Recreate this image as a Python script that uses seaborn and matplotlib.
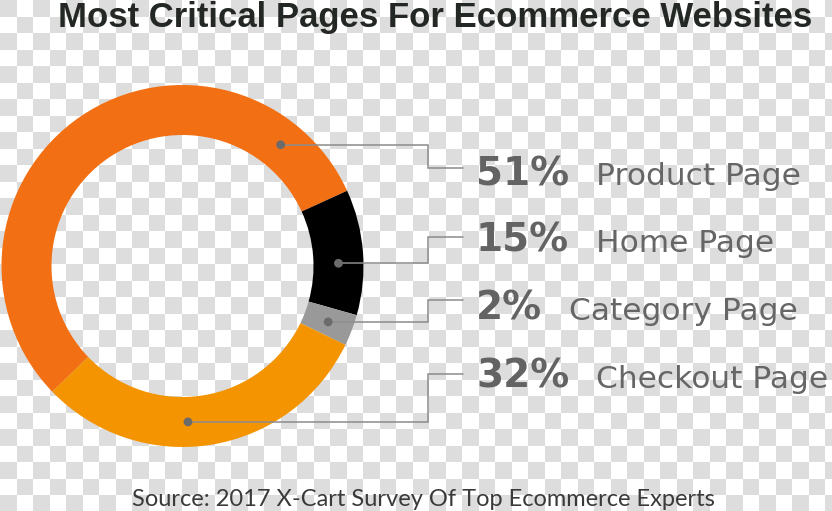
import numpy as np
import pandas as pd
import matplotlib
matplotlib.use("Agg")
import matplotlib.pyplot as plt
import seaborn as sns

# ---- data ----
categories = ["Product Page", "Home Page", "Category Page", "Checkout Page"]
percent_labels = [51, 15, 2, 32]
arc_share = [55.4, 11.2, 2.8, 30.6]      # drawn ring arc sizes (share of circle)
dot_angle = [51, 1, -21, -88]            # where each connector leaves the ring (deg)
colors = ["#f36f13", "#000000", "#999999", "#f39400"]

title = "Most Critical Pages For Ecommerce Websites"
source = "Source: 2017 X-Cart Survey Of Top Ecommerce Experts"

# ---- layout (pixels, top-left origin) ----
W, H = 832, 511
cx_px, cy_px = 182.5, 266
R, ring = 181, 50
elbow_x, line_end_x = 428, 463
connector_row = [168, 237, 300, 374]
text_baseline = [185, 251.5, 320, 388]
pct_x = 476

sns.set_theme(style="white")
plt.rcParams['font.family'] = ['DejaVu Sans']

fig = plt.figure(figsize=(W / 100, H / 100), dpi=100)

# transparency checkerboard background
cell = 16.5
yy, xx = np.mgrid[0:H, 0:W]
parity = ((yy // cell).astype(int) + (xx // cell).astype(int)) % 2
board = np.where(parity == 0, 221, 255).astype(np.uint8)
board = np.stack([board] * 3, axis=-1)
fig.figimage(board, xo=0, yo=0, origin='upper', zorder=-10)

ax = fig.add_axes([0, 0, 1, 1])
ax.set_zorder(5)
ax.set_facecolor('none')
ax.patch.set_alpha(0)

cx, cy = cx_px, H - cy_px
ax.pie(arc_share, colors=colors, radius=R, center=(cx, cy), startangle=224,
       counterclock=False, wedgeprops=dict(width=ring, linewidth=0))

r_mid = R - ring / 2
ang = np.deg2rad(dot_angle)
dots = pd.DataFrame({"x": cx + r_mid * np.cos(ang),
                     "y": cy + r_mid * np.sin(ang),
                     "cat": categories})

for i, row in dots.iterrows():
    ry = H - connector_row[i]
    ax.plot([row.x, elbow_x, elbow_x, line_end_x], [row.y, row.y, ry, ry],
            color="#8c8c8c", lw=1.1, solid_joinstyle='miter', zorder=4)

sns.scatterplot(data=dots, x="x", y="y", color="#6b6b6b", s=40,
                edgecolor='none', ax=ax, zorder=5, legend=False)
ax.set_xlim(0, W)
ax.set_ylim(0, H)
ax.axis('off')

for i, (p, name) in enumerate(zip(percent_labels, categories)):
    by = H - text_baseline[i]
    t = ax.text(pct_x, by, f"{p}%", fontsize=28, fontweight='heavy',
                color="#636363", ha='left', va='baseline')
    ax.annotate(name, xy=(1, by), xycoords=(t, 'data'), xytext=(19, 0),
                textcoords='offset points', fontsize=22.5, color="#666666",
                ha='left', va='baseline')

ax.text(435, H - 27, title, family=['Liberation Sans', 'DejaVu Sans'], fontweight='bold',
        fontsize=25, color="#242824", ha='center', va='baseline')
ax.text(423.5, H - 506, source, family=['Lato', 'DejaVu Sans'], fontweight='normal',
        fontsize=17, color="#3a3a3a", ha='center', va='baseline')

fig.savefig("out.png", dpi=100)
